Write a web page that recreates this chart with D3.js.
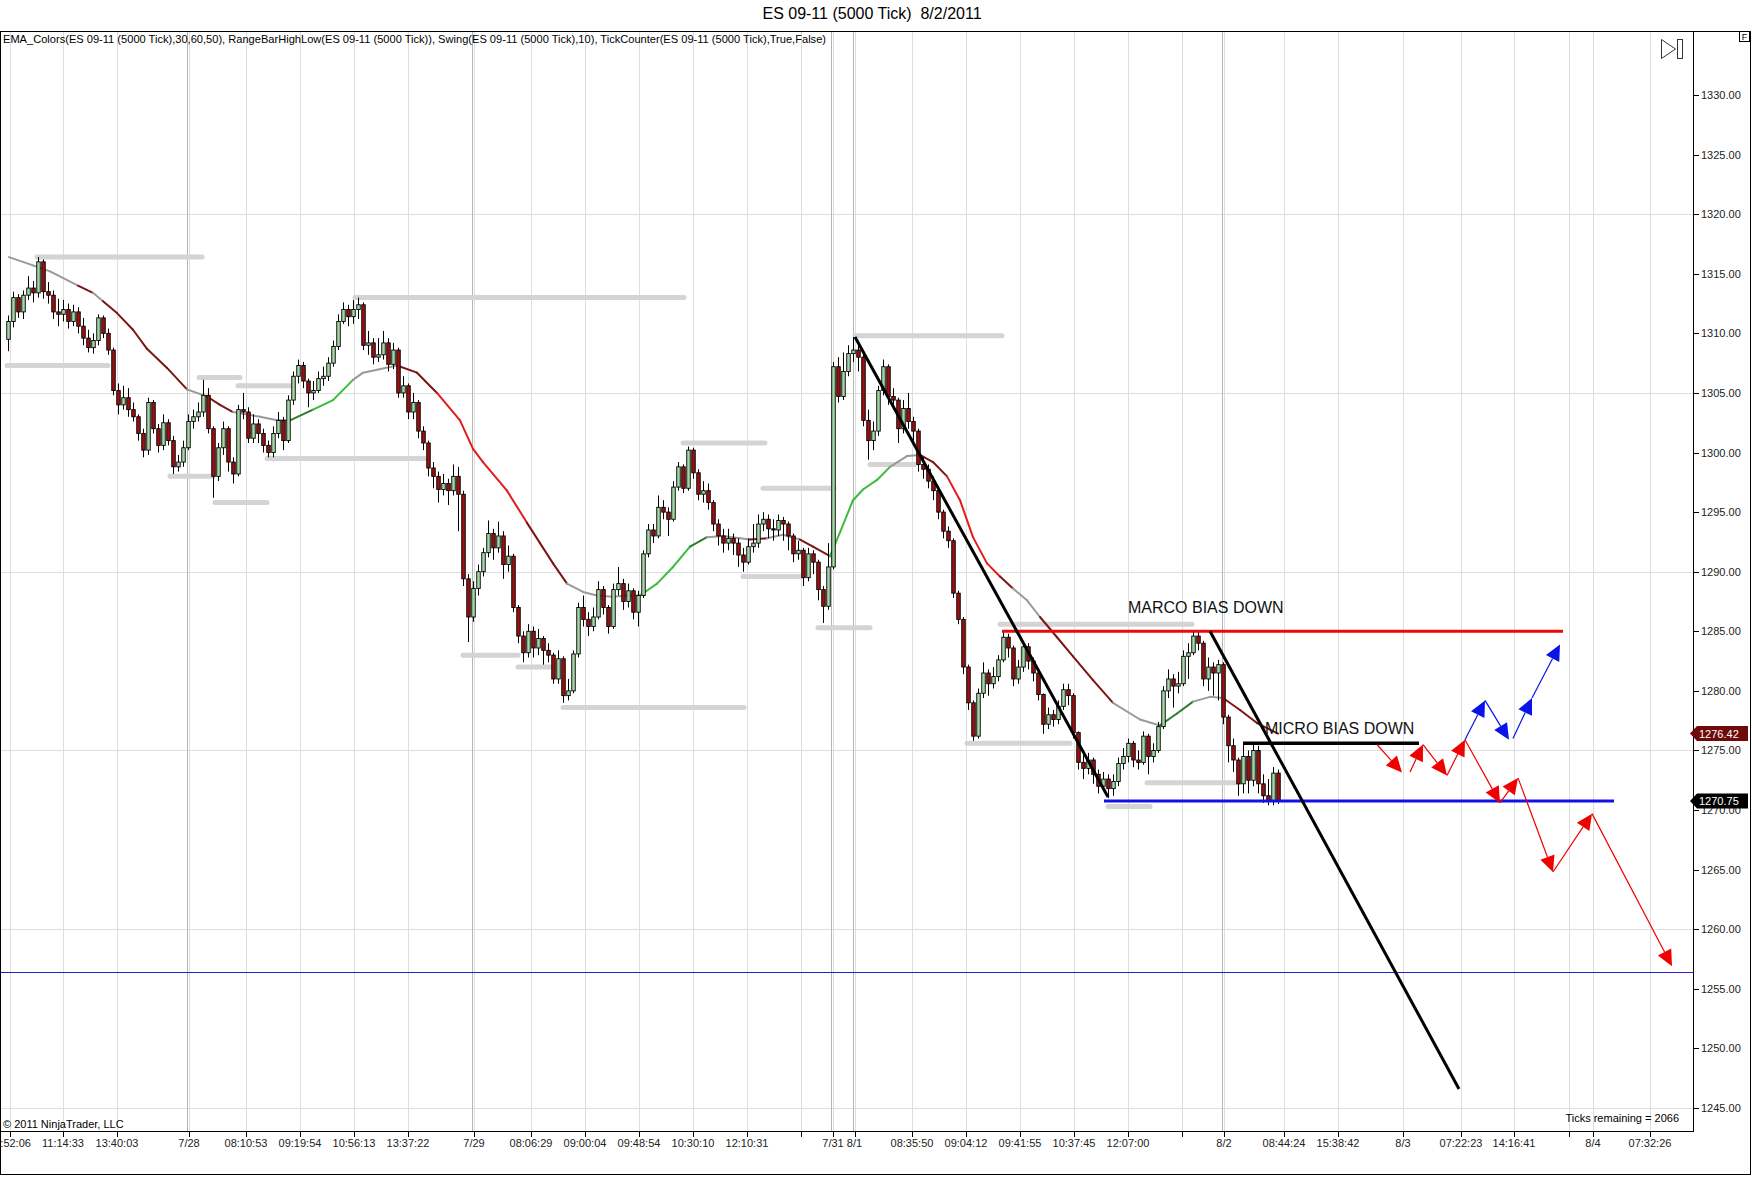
<!DOCTYPE html>
<html>
<head>
<meta charset="utf-8">
<script src="https://cdn.jsdelivr.net/npm/d3@7"></script>
<style>
  body { margin: 0; background: #fff; }
  svg { display: block; font-family: "Liberation Sans", Arial, sans-serif; }
</style>
</head>
<body>
<svg id="chart" width="1752" height="1177"></svg>
<script>
// --- Data: tick bars [open, high, low, close], one array per session ---
const bars0727 = [
  [1309.5,1311.5,1308.5,1311.0],[1311.0,1313.5,1310.5,1313.0],[1313.0,1313.3,1311.3,1311.8],[1311.8,1313.6,1311.2,1313.2],
  [1313.2,1314.8,1312.8,1313.8],[1313.8,1314.4,1312.6,1313.4],[1313.4,1316.4,1313.0,1316.0],[1316.0,1316.2,1312.9,1313.5],
  [1313.5,1314.3,1312.5,1313.2],[1313.2,1313.6,1311.2,1311.8],[1311.8,1312.9,1310.6,1311.6],[1311.6,1312.8,1311.0,1312.0],
  [1312.0,1312.5,1310.4,1311.0],[1311.0,1312.4,1310.6,1311.8],[1311.8,1312.2,1310.0,1310.6],[1310.6,1311.3,1309.0,1309.6],
  [1309.6,1310.3,1308.4,1308.8],[1308.8,1310.0,1308.3,1309.4],[1309.4,1311.6,1309.0,1311.3],[1311.3,1311.5,1309.6,1310.0],
  [1310.0,1310.4,1308.2,1308.6],[1308.6,1308.8,1304.8,1305.2],[1305.2,1305.8,1303.2,1304.0],[1304.0,1305.6,1303.6,1304.6],
  [1304.6,1305.4,1303.0,1303.6],[1303.6,1304.2,1302.6,1303.0],[1303.0,1303.2,1301.0,1301.6],[1301.6,1302.0,1299.6,1300.2],
  [1300.2,1304.6,1299.8,1304.2],[1304.2,1304.4,1301.6,1302.0],[1302.0,1302.4,1300.0,1300.6],[1300.6,1303.2,1300.2,1302.5],
  [1302.5,1302.8,1300.6,1301.0],[1301.0,1301.4,1298.2,1298.8],[1298.8,1299.8,1298.4,1299.2],[1299.2,1301.0,1298.8,1300.4]
];
const bars0728 = [
  [1300.4,1303.2,1300.2,1302.6],[1302.6,1303.6,1302.0,1303.0],[1303.0,1304.2,1302.6,1303.4],[1303.4,1306.1,1303.0,1304.8],
  [1304.8,1305.4,1301.6,1302.0],[1302.0,1302.2,1296.2,1298.0],[1298.0,1300.8,1297.6,1300.4],[1300.4,1302.6,1299.8,1302.0],
  [1302.0,1302.2,1298.4,1299.2],[1299.2,1299.6,1297.4,1298.2],[1298.2,1304.0,1298.0,1303.6],[1303.6,1305.0,1302.8,1303.4],
  [1303.4,1303.8,1300.8,1301.2],[1301.2,1303.2,1300.8,1302.4],[1302.4,1302.8,1300.8,1301.6],[1301.6,1302.0,1300.0,1300.6],
  [1300.6,1301.0,1299.6,1300.0],[1300.0,1302.2,1299.6,1301.6],[1301.6,1303.4,1301.2,1302.7],[1302.7,1303.0,1300.2,1301.0],
  [1301.0,1304.8,1300.8,1304.4],[1304.4,1306.8,1304.0,1306.4],[1306.4,1307.8,1305.8,1307.3],[1307.3,1307.6,1305.4,1306.0],
  [1306.0,1306.2,1303.8,1305.0],[1305.0,1306.0,1304.4,1305.2],[1305.2,1306.8,1305.0,1306.2],[1306.2,1307.2,1305.6,1306.4],
  [1306.4,1308.0,1306.0,1307.5],[1307.5,1309.4,1307.2,1308.9],[1308.9,1311.6,1308.6,1311.0],[1311.0,1312.6,1310.8,1312.0],
  [1312.0,1312.4,1310.6,1311.4],[1311.4,1312.8,1310.8,1312.0],[1312.0,1313.0,1311.2,1312.4],[1312.4,1312.6,1308.6,1309.0],
  [1309.0,1310.2,1308.2,1309.2],[1309.2,1309.6,1307.4,1308.0],[1308.0,1309.6,1307.6,1308.2],[1308.2,1310.2,1307.8,1309.2],
  [1309.2,1309.6,1306.8,1307.4],[1307.4,1309.2,1307.0,1308.6],[1308.6,1308.8,1304.6,1305.0],[1305.0,1306.4,1304.6,1305.6],
  [1305.6,1305.8,1302.8,1303.4],[1303.4,1305.0,1302.8,1304.2],[1304.2,1304.4,1301.2,1301.8],[1301.8,1302.2,1300.2,1300.8],
  [1300.8,1301.0,1298.0,1298.7],[1298.7,1299.2,1297.0,1298.0],[1298.0,1298.4,1295.8,1296.9],[1296.9,1298.2,1296.4,1297.4],
  [1297.4,1297.8,1295.6,1296.8],[1296.8,1299.0,1296.4,1298.0],[1298.0,1298.8,1293.4,1296.5],[1296.5,1296.8,1288.8,1289.4],
  [1289.4,1289.8,1284.1,1286.2]
];
const bars0729 = [
  [1286.2,1289.2,1285.8,1288.6],[1288.6,1290.6,1288.0,1290.0],[1290.0,1292.0,1289.6,1291.6],[1291.6,1294.3,1291.2,1293.2],
  [1293.2,1293.6,1291.0,1292.0],[1292.0,1294.2,1291.6,1293.0],[1293.0,1293.4,1289.4,1290.6],[1290.6,1292.2,1290.0,1291.3],
  [1291.3,1291.5,1286.6,1287.0],[1287.0,1287.2,1284.0,1284.6],[1284.6,1285.0,1282.4,1283.2],[1283.2,1285.6,1282.8,1285.0],
  [1285.0,1285.4,1282.8,1283.6],[1283.6,1285.2,1283.0,1284.4],[1284.4,1284.6,1282.2,1283.4],[1283.4,1284.0,1282.4,1283.0],
  [1283.0,1283.2,1280.6,1281.0],[1281.0,1283.4,1280.6,1282.7],[1282.7,1282.9,1279.0,1279.6],[1279.6,1281.0,1279.2,1280.0],
  [1280.0,1283.4,1279.8,1283.1],[1283.1,1287.4,1282.8,1287.0],[1287.0,1288.0,1285.4,1286.0],[1286.0,1286.6,1284.6,1285.4],
  [1285.4,1287.0,1285.0,1286.2],[1286.2,1289.2,1286.0,1288.5],[1288.5,1288.8,1286.4,1287.0],[1287.0,1287.2,1284.8,1285.4],
  [1285.4,1289.0,1285.2,1288.5],[1288.5,1290.4,1288.0,1289.0],[1289.0,1289.4,1286.8,1287.5],[1287.5,1289.0,1287.0,1288.4],
  [1288.4,1288.6,1286.0,1286.6],[1286.6,1288.4,1285.4,1288.0],[1288.0,1291.8,1287.8,1291.5],[1291.5,1294.0,1291.2,1293.5],
  [1293.5,1294.0,1292.4,1293.0],[1293.0,1296.4,1292.8,1295.4],[1295.4,1296.0,1294.4,1295.0],[1295.0,1295.4,1293.0,1294.4],
  [1294.4,1297.6,1294.2,1297.1],[1297.1,1299.2,1296.8,1298.8],[1298.8,1299.0,1296.6,1297.0],[1297.0,1300.5,1296.8,1300.2],
  [1300.2,1300.4,1297.8,1298.3],[1298.3,1298.6,1296.0,1296.5],[1296.5,1297.6,1295.8,1296.8],[1296.8,1297.4,1295.2,1295.8],
  [1295.8,1296.0,1293.4,1294.0],[1294.0,1294.4,1292.2,1293.0],[1293.0,1293.6,1291.6,1292.4],[1292.4,1293.6,1291.8,1292.8],
  [1292.8,1293.2,1291.4,1292.4],[1292.4,1292.8,1290.4,1291.4],[1291.4,1292.0,1290.0,1290.8],[1290.8,1292.8,1290.6,1292.1],
  [1292.1,1294.0,1291.6,1292.4],[1292.4,1294.8,1292.0,1294.0],[1294.0,1295.0,1293.4,1294.4],[1294.4,1294.8,1292.8,1293.6],
  [1293.6,1294.4,1292.6,1293.5],[1293.5,1294.8,1293.0,1294.3],[1294.3,1294.6,1292.6,1294.0],[1294.0,1294.2,1291.8,1293.0],
  [1293.0,1293.2,1290.8,1291.5],[1291.5,1292.6,1291.0,1291.8],[1291.8,1292.0,1288.8,1289.5],[1289.5,1292.0,1289.2,1291.5],
  [1291.5,1291.8,1289.8,1290.8],[1290.8,1291.0,1287.6,1288.5],[1288.5,1288.8,1285.7,1287.1],[1287.1,1292.4,1286.8,1290.4]
];
const bars0801 = [
  [1290.4,1307.6,1290.2,1307.2],[1307.2,1308.0,1304.2,1304.7],[1304.7,1308.4,1304.4,1306.8],[1306.8,1309.0,1306.4,1308.3],
  [1308.3,1309.7,1307.6,1308.6],[1308.6,1309.0,1306.8,1308.0],[1308.0,1308.2,1302.2,1302.7],[1302.7,1303.6,1299.4,1301.0],
  [1301.0,1302.6,1300.2,1301.8],[1301.8,1305.6,1301.4,1305.2],[1305.2,1307.8,1304.8,1307.2],[1307.2,1307.4,1304.0,1304.7],
  [1304.7,1305.4,1303.6,1304.4],[1304.4,1304.6,1300.8,1302.0],[1302.0,1304.4,1301.6,1303.7],[1303.7,1305.0,1302.0,1302.6],
  [1302.6,1303.0,1301.0,1301.8],[1301.8,1302.0,1298.4,1299.0],[1299.0,1299.6,1297.8,1298.6],[1298.6,1299.0,1297.0,1297.6],
  [1297.6,1298.0,1296.0,1296.8],[1296.8,1297.2,1294.4,1295.0],[1295.0,1295.2,1292.8,1293.4],[1293.4,1293.8,1292.0,1292.6],
  [1292.6,1292.8,1287.8,1288.2],[1288.2,1288.4,1285.6,1286.0],[1286.0,1286.2,1281.4,1282.0],[1282.0,1282.2,1278.4,1279.0],
  [1279.0,1279.2,1275.8,1276.2],[1276.2,1280.2,1276.0,1279.8],[1279.8,1282.4,1279.4,1281.5],[1281.5,1281.8,1279.6,1280.6],
  [1280.6,1282.0,1280.2,1281.2],[1281.2,1283.0,1280.8,1282.6],[1282.6,1285.0,1282.4,1284.5],[1284.5,1284.8,1282.8,1283.6],
  [1283.6,1283.8,1280.4,1281.0],[1281.0,1282.6,1280.6,1282.0],[1282.0,1284.2,1281.6,1283.7],[1283.7,1284.0,1281.8,1282.5],
  [1282.5,1282.8,1280.8,1281.5],[1281.5,1281.8,1279.2,1279.7],[1279.7,1279.8,1276.4,1277.2],[1277.2,1278.6,1276.8,1278.0],
  [1278.0,1278.4,1277.0,1277.6],[1277.6,1279.2,1277.2,1278.7],[1278.7,1280.6,1278.4,1280.1],[1280.1,1280.6,1278.8,1279.6],
  [1279.6,1279.8,1276.0,1276.5],[1276.5,1276.6,1273.4,1274.0],[1274.0,1274.6,1272.6,1273.5],[1273.5,1274.8,1273.0,1274.2],
  [1274.2,1274.4,1272.2,1273.0],[1273.0,1273.4,1271.4,1272.0],[1272.0,1273.2,1271.6,1272.6],[1272.6,1273.0,1271.0,1271.8],
  [1271.8,1273.0,1271.2,1272.4],[1272.4,1274.4,1272.0,1273.9],[1273.9,1275.2,1273.4,1274.5],[1274.5,1276.0,1274.0,1275.6],
  [1275.6,1275.8,1273.6,1274.2],[1274.2,1275.0,1273.4,1274.0],[1274.0,1276.6,1273.8,1276.2],[1276.2,1276.4,1273.0,1274.5],
  [1274.5,1275.6,1274.0,1275.0],[1275.0,1277.4,1274.8,1277.0],[1277.0,1280.4,1276.8,1280.0],[1280.0,1281.8,1279.4,1281.0],
  [1281.0,1281.4,1278.6,1280.4],[1280.4,1281.6,1279.8,1280.6],[1280.6,1283.4,1280.4,1282.9],[1282.9,1284.0,1281.0,1283.2],
  [1283.2,1285.0,1283.0,1284.6],[1284.6,1285.0,1283.4,1284.0],[1284.0,1284.2,1280.4,1281.0],[1281.0,1282.8,1280.0,1282.0],
  [1282.0,1282.4,1279.6,1281.5],[1281.5,1282.6,1279.2,1282.2],[1282.2,1282.4,1277.2,1277.8]
];
const bars0802 = [
  [1277.8,1278.0,1274.0,1275.4],[1275.4,1276.0,1273.2,1274.2],[1274.2,1274.4,1271.2,1272.2],[1272.2,1275.6,1271.4,1274.5],
  [1274.5,1275.0,1271.4,1272.5],[1272.5,1275.6,1272.0,1275.0],[1275.0,1275.4,1271.4,1272.2],[1272.2,1273.0,1270.6,1271.2],
  [1271.2,1272.6,1270.4,1270.8],[1270.8,1273.6,1270.4,1273.1],[1273.1,1273.4,1270.5,1270.75]
];

// EMA_Colors line: bar position, value, slope colour of the segment ending there
const emaIdx = [0.2,5,8.4,14,17,19,21.8,25,27.8,31.8,35.8,39.8,42.4,45,50.4,53.8,56.4,61,65,69,71,77.8,81.8,85.8,90.4,93,95,99.8,103.8,106.4,109,111.8,115,117.8,121,123.8,126.4,129.8,133,136.4,139.8,143,146.4,148.4,151.8,155,158.4,161,164.4,166.4,169,171,173.8,176.4,179.8,182.4,185,187.8,190.4,193,195.8,198.4,201,203.8,206.4,209.8,213,217,221,226.4,230.4,233.8,237,240.4,243,246.4,249.8,254];
const emaVal = [1316.4,1315.7,1315.2,1314.0,1313.4,1312.7,1311.7,1310.3,1308.7,1307.1,1305.3,1304.7,1304.0,1303.4,1303.0,1302.7,1302.7,1303.6,1304.4,1306.1,1306.7,1307.3,1306.7,1305.0,1302.7,1300.3,1299.2,1296.8,1294.1,1292.4,1290.7,1289.0,1288.3,1288.0,1287.9,1288.0,1288.0,1289.0,1290.4,1292.1,1292.9,1293.0,1292.8,1292.7,1292.8,1293.1,1292.7,1292.1,1291.3,1293.3,1296.0,1296.9,1297.7,1298.8,1299.7,1299.8,1299.2,1298.0,1296.0,1292.9,1290.7,1289.6,1288.6,1287.6,1286.2,1284.5,1282.9,1280.9,1279.0,1277.6,1277.1,1278.1,1279.1,1279.5,1279.4,1278.4,1277.3,1276.42];
const emaCol = ["gy","gy","gy","gy","dr","gy","dr","dr","dr","dr","dr","gy","dr","dr","gy","gy","gy","dg","g","g","gy","gy","dr","dr","r","r","r","r","r","dr","dr","dr","gy","gy","gy","gy","gy","g","g","g","dg","gy","gy","gy","dr","gy","gy","dr","dr","g","g","g","g","g","gy","gy","dr","dr","r","r","r","r","dr","gy","gy","dr","dr","dr","dr","gy","gy","dg","dg","gy","gy","dr","dr","dr"];

// Swing highs / lows (grey bars): start bar, end bar, price
const swingFrom  = [5.8,-0.2,32.4,38.2,46,41.4,51.8,69.4,91,102,111,135,151,147,162,169.4,172.4,198.4,191.8,227.8,220];
const swingTo    = [38.8,20,41,46.4,57,51.8,83.8,135.2,102,108.8,147.2,151.4,165.2,158.8,172.4,198.8,181.4,236.8,212.4,246,228.4];
const swingPrice = [1316.4,1307.3,1298.0,1306.3,1305.6,1295.8,1299.5,1313.0,1283.0,1282.0,1278.6,1300.8,1297.0,1289.6,1285.3,1309.8,1299.0,1285.6,1275.6,1272.3,1270.3];

// Time axis
const tickIdx = [0.3,11,21.8,36.2,47.6,58.4,69.2,80,93.2,104.6,115.4,126.2,137,147.8,158.6,165.0,169.3,180.8,191.6,202.4,213.2,224,234.8,243.2,255.2,266,279,290.6,301.2,312.2,317,328.4];
const tickLabels = ["09:52:06","11:14:33","13:40:03","7/28","08:10:53","09:19:54","10:56:13","13:37:22","7/29","08:06:29","09:00:04","09:48:54","10:30:10","12:10:31","","7/31","8/1","08:35:50","09:04:12","09:41:55","10:37:45","12:07:00","","8/2","08:44:24","15:38:42","8/3","07:22:23","14:16:41","","8/4","07:32:26"];
const sessionIdx = [36.2,93.2,165.0,169.3,243.2];

// Price axis
const priceTicks = d3.range(1245, 1331, 5);
const priceGrid = [1245,1260,1275,1290,1305,1320];

// Drawings: trend lines [bar1, price1, bar2, price2]
const trendLines = [[169.4,1309.7,220,1271.1],[240.4,1285.0,290.2,1246.6]];
// horizontal levels [fromBar, toBar, price]
const levelRed   = [198.8,311,1285.0];
const levelBlue  = [219.2,321.2,1270.75];
const levelMicro = [247,282.2,1275.6];
const thinBlueLevel = 1256.4;
// projected path arrows [bar1, price1, bar2, price2]
const redArrows = [[273.8,1275.5,278.8,1273.15],[280.4,1273.2,283,1275.5],[283,1275.5,287.8,1272.9],[287.8,1272.9,291.4,1275.9],[291.4,1275.9,298.4,1270.6],[298.4,1270.6,302,1272.7],[302,1272.7,309,1264.8],[309,1264.8,316.8,1269.7],[316.8,1269.7,332.8,1256.9]];
const blueArrows = [[291.4,1275.9,295.4,1279.2],[295.4,1279.2,300.2,1275.9],[301,1276.0,304.8,1279.4],[304.8,1279.4,310.4,1283.9]];
const notes = [["MARCO BIAS DOWN",224,1286.5],["MICRO BIAS DOWN",251.4,1276.4]];
const lastEma = 1276.42, lastClose = 1270.75;

// --- Setup ---
const svg = d3.select("#chart");
const plot = { left: 0, top: 31, right: 1693, bottom: 1131 };
const bars = [].concat(bars0727, bars0728, bars0729, bars0801, bars0802);

const x = d3.scaleLinear().domain([0, 254]).range([8, 1278]);
const y = d3.scaleLinear().domain([1245, 1330]).range([1108, 95]);

const emaColors = { gy: "#9a9a9a", dr: "#7d1515", r: "#e41b1b", dg: "#2d7d2d", g: "#3dbb3d" };
const upFill = "#a5d6a5", downFill = "#9b1111";

svg.append("defs").append("clipPath").attr("id", "plotClip")
  .append("rect").attr("x", plot.left).attr("y", plot.top)
  .attr("width", plot.right - plot.left).attr("height", plot.bottom - plot.top);

// title
svg.append("text").attr("x", 872).attr("y", 19).attr("text-anchor", "middle")
  .attr("font-size", 16).style("white-space", "pre")
  .text("ES 09-11 (5000 Tick)  8/2/2011");

// grid
const grid = svg.append("g").attr("clip-path", "url(#plotClip)");
grid.selectAll("line.hg").data(priceGrid).join("line").attr("class", "hg")
  .attr("x1", plot.left).attr("x2", plot.right)
  .attr("y1", d => Math.round(y(d)) + 0.5).attr("y2", d => Math.round(y(d)) + 0.5)
  .attr("stroke", "#dedede");
grid.selectAll("line.vg").data(tickIdx).join("line").attr("class", "vg")
  .attr("x1", d => Math.round(x(d)) + 0.5).attr("x2", d => Math.round(x(d)) + 0.5)
  .attr("y1", plot.top).attr("y2", plot.bottom)
  .attr("stroke", "#dedede");
grid.selectAll("line.sg").data(sessionIdx).join("line").attr("class", "sg")
  .attr("x1", d => Math.round(x(d)) - 1.5).attr("x2", d => Math.round(x(d)) - 1.5)
  .attr("y1", plot.top).attr("y2", plot.bottom)
  .attr("stroke", "#b4b4b4");

const g = svg.append("g").attr("clip-path", "url(#plotClip)");

// thin blue level
g.append("line").attr("x1", plot.left).attr("x2", plot.right)
  .attr("y1", Math.round(y(thinBlueLevel)) + 0.5).attr("y2", Math.round(y(thinBlueLevel)) + 0.5)
  .attr("stroke", "#2323c8").attr("stroke-width", 1);

// swing bars
g.selectAll("line.swing").data(swingPrice).join("line").attr("class", "swing")
  .attr("x1", (d, i) => x(swingFrom[i])).attr("x2", (d, i) => x(swingTo[i]))
  .attr("y1", d => y(d)).attr("y2", d => y(d))
  .attr("stroke", "#d4d4d4").attr("stroke-width", 5).attr("stroke-linecap", "round");

// EMA line, one segment per reading so each can carry its slope colour
const emaSegs = emaVal.slice(1).map((v, k) => ({ a: k, b: k + 1 }));
g.selectAll("line.ema").data(emaSegs).join("line").attr("class", "ema")
  .attr("x1", d => x(emaIdx[d.a])).attr("y1", d => y(emaVal[d.a]))
  .attr("x2", d => x(emaIdx[d.b])).attr("y2", d => y(emaVal[d.b]))
  .attr("stroke", d => emaColors[emaCol[d.b]]).attr("stroke-width", 2)
  .attr("stroke-linecap", "round");

// candles
const candles = g.append("g").selectAll("g").data(bars).join("g");
candles.append("line")
  .attr("x1", (d, i) => x(i) + 0.5).attr("x2", (d, i) => x(i) + 0.5)
  .attr("y1", d => y(d[1])).attr("y2", d => y(d[2]))
  .attr("stroke", "#000").attr("stroke-width", 1);
candles.append("rect")
  .attr("x", (d, i) => x(i) - 1.25)
  .attr("width", 3.5)
  .attr("y", d => y(Math.max(d[0], d[3])))
  .attr("height", d => Math.max(1, Math.abs(y(d[0]) - y(d[3]))))
  .attr("fill", d => d[3] >= d[0] ? upFill : downFill)
  .attr("stroke", "#000").attr("stroke-width", 0.9);

// horizontal levels
function level(arr, color, width) {
  g.append("line").attr("x1", x(arr[0])).attr("x2", x(arr[1]))
    .attr("y1", y(arr[2])).attr("y2", y(arr[2]))
    .attr("stroke", color).attr("stroke-width", width);
}
level(levelRed, "#ea0a0a", 3);
level(levelBlue, "#1212e6", 3);
level(levelMicro, "#000", 3.5);

// trend lines
g.selectAll("line.trend").data(trendLines).join("line").attr("class", "trend")
  .attr("x1", d => x(d[0])).attr("y1", d => y(d[1]))
  .attr("x2", d => x(d[2])).attr("y2", d => y(d[3]))
  .attr("stroke", "#000").attr("stroke-width", 3);

// arrows
function arrows(list, color) {
  list.forEach(d => {
    const x1 = x(d[0]), y1 = y(d[1]), x2 = x(d[2]), y2 = y(d[3]);
    const a = Math.atan2(y2 - y1, x2 - x1);
    const len = 16, hw = 7.5;
    const bx = x2 - len * Math.cos(a), by = y2 - len * Math.sin(a);
    g.append("line").attr("x1", x1).attr("y1", y1).attr("x2", bx).attr("y2", by)
      .attr("stroke", color).attr("stroke-width", 1.2);
    g.append("path")
      .attr("d", `M${x2},${y2}L${bx - hw * Math.sin(a)},${by + hw * Math.cos(a)}L${bx + hw * Math.sin(a)},${by - hw * Math.cos(a)}Z`)
      .attr("fill", color);
  });
}
arrows(redArrows, "#f00000");
arrows(blueArrows, "#0a14e6");

// notes
g.selectAll("text.note").data(notes).join("text").attr("class", "note")
  .attr("x", d => x(d[1])).attr("y", d => y(d[2]))
  .attr("font-size", 16).attr("fill", "#111")
  .text(d => d[0]);

// indicator label + corner texts
svg.append("text").attr("x", 3).attr("y", 43).attr("font-size", 11)
  .attr("textLength", 823).attr("lengthAdjust", "spacingAndGlyphs")
  .text("EMA_Colors(ES 09-11 (5000 Tick),30,60,50), RangeBarHighLow(ES 09-11 (5000 Tick)), Swing(ES 09-11 (5000 Tick),10), TickCounter(ES 09-11 (5000 Tick),True,False)");
svg.append("text").attr("x", 3).attr("y", 1128).attr("font-size", 11)
  .text("© 2011 NinjaTrader, LLC");
svg.append("text").attr("x", 1679).attr("y", 1122).attr("font-size", 11)
  .attr("text-anchor", "end").style("white-space", "pre")
  .text("Ticks remaining = 2066");

// scroll-to-end icon
svg.append("path").attr("d", "M1661.5,39.5L1675.5,49L1661.5,58.5Z")
  .attr("fill", "none").attr("stroke", "#333").attr("stroke-width", 1);
svg.append("rect").attr("x", 1677.5).attr("y", 39.5).attr("width", 5).attr("height", 19)
  .attr("fill", "none").attr("stroke", "#333").attr("stroke-width", 1);

// frame
svg.append("rect").attr("x", 0.5).attr("y", plot.top + 0.5)
  .attr("width", 1750).attr("height", 1174 - plot.top)
  .attr("fill", "none").attr("stroke", "#000");
svg.append("line").attr("x1", plot.right + 0.5).attr("x2", plot.right + 0.5)
  .attr("y1", plot.top).attr("y2", plot.bottom).attr("stroke", "#000");
svg.append("line").attr("x1", 0).attr("x2", plot.right + 1)
  .attr("y1", plot.bottom + 0.5).attr("y2", plot.bottom + 0.5).attr("stroke", "#000");

// "F" box
svg.append("rect").attr("x", 1739.5).attr("y", 31.5).attr("width", 10).attr("height", 10)
  .attr("fill", "#fff").attr("stroke", "#000");
svg.append("text").attr("x", 1744.5).attr("y", 40).attr("font-size", 9)
  .attr("text-anchor", "middle").text("F");

// price axis
const pa = svg.append("g");
pa.selectAll("line").data(priceTicks).join("line")
  .attr("x1", plot.right).attr("x2", plot.right + 6)
  .attr("y1", d => Math.round(y(d)) + 0.5).attr("y2", d => Math.round(y(d)) + 0.5)
  .attr("stroke", "#000");
pa.selectAll("text").data(priceTicks).join("text")
  .attr("x", plot.right + 8).attr("y", d => y(d) + 4)
  .attr("font-size", 11).attr("fill", "#222")
  .text(d => d3.format(".2f")(d));

// time axis
const ta = svg.append("g");
ta.selectAll("line").data(tickIdx).join("line")
  .attr("x1", d => Math.round(x(d)) + 0.5).attr("x2", d => Math.round(x(d)) + 0.5)
  .attr("y1", plot.bottom).attr("y2", plot.bottom + 6)
  .attr("stroke", "#000");
ta.selectAll("text").data(tickLabels).join("text")
  .attr("x", (d, i) => x(tickIdx[i])).attr("y", plot.bottom + 16)
  .attr("font-size", 11).attr("fill", "#222").attr("text-anchor", "middle")
  .text(d => d);

// last-value markers
function marker(value, fill) {
  const yy = y(value);
  svg.append("path")
    .attr("d", `M${plot.right - 3},${yy}L${plot.right + 4},${yy - 7.5}L${plot.right + 55},${yy - 7.5}L${plot.right + 55},${yy + 7.5}L${plot.right + 4},${yy + 7.5}Z`)
    .attr("fill", fill);
  svg.append("text").attr("x", plot.right + 6).attr("y", yy + 4)
    .attr("font-size", 11).attr("fill", "#fff").text(d3.format(".2f")(value));
}
marker(lastEma, "#6e0a0a");
marker(lastClose, "#000");
</script>
</body>
</html>
